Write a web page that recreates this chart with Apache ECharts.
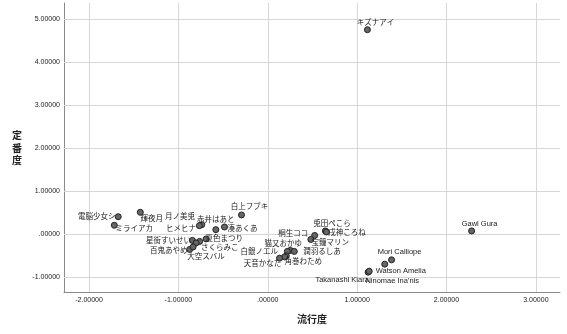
<!DOCTYPE html>
<html>
<head>
<meta charset="utf-8">
<script src="https://cdn.jsdelivr.net/npm/echarts@6/dist/echarts.min.js"></script>
<style>html,body{margin:0;padding:0;background:#fff;}#c{width:567px;height:334px;}</style>
</head>
<body>
<div id="c"></div>
<script>
// ---- data ----
const names = ['キズナアイ','Gawl Gura','Mori Calliope','Watson Amelia','Takanashi Kiara',"Ninomae Ina'nis",
  '兎田ぺこら','戌神ころね','桐生ココ','宝鐘マリン','猫又おかゆ','白銀ノエル','潤羽るしあ','角巻わため','','天音かなた',
  '電脳少女シ','ミライアカ','輝夜月','月ノ美兎','ヒメヒナ','赤井はあと','湊あくあ','白上フブキ',
  '星街すいせい','さくらみこ','夏色まつり','大空スバル','百鬼あやめ',''];
const popularity = [1.115,2.281,1.385,1.309,1.123,1.135,
  0.645,0.656,0.525,0.482,0.252,0.219,0.297,0.207,0.188,0.132,
  -1.673,-1.717,-1.426,-0.738,-0.765,-0.581,-0.484,-0.294,
  -0.843,-0.762,-0.689,-0.802,-0.874,-0.835];
const standard = [4.749,0.070,-0.603,-0.703,-0.889,-0.866,
  0.070,0.046,-0.035,-0.128,-0.383,-0.406,-0.406,-0.510,-0.534,-0.564,
  0.401,0.202,0.503,0.216,0.193,0.100,0.162,0.441,
  -0.151,-0.174,-0.116,-0.209,-0.360,-0.302];
const xTicks = [-2,-1,0,1,2,3];
const yTicks = [-1,0,1,2,3,4,5];
const xTitle = '流行度';
const yTitle = '定\n番\n度';

// ---- label placement (style only) ----
const labelOffsets = {
  'キズナアイ':[8,-7],'Gawl Gura':[8,-7],'Mori Calliope':[8,-8],'Watson Amelia':[16,7],
  'Takanashi Kiara':[-26,8],"Ninomae Ina'nis":[23,10],
  '兎田ぺこら':[6.5,-7],'戌神ころね':[20.5,0.5],'桐生ココ':[-21.5,-2],'宝鐘マリン':[19.5,3],
  '猫又おかゆ':[-7,-6.5],'白銀ノエル':[-28,0.5],'潤羽るしあ':[27.7,1],'角巻わため':[17,6],'天音かなた':[-17,6],
  '電脳少女シ':[-21.6,0],'ミライアカ':[20,3.7],'輝夜月':[11.4,6.4],'月ノ美兎':[-21.7,-7.4],'ヒメヒナ':[-18.3,3.6],
  '赤井はあと':[0,-9.7],'湊あくあ':[18,2.3],'白上フブキ':[8,-8.3],
  '星街すいせい':[-24,1],'さくらみこ':[20,6.5],'夏色まつり':[18,0],'大空スバル':[10,14.5],'百鬼あやめ':[-21,1.5]
};

const fmt = v => v.toFixed(5).replace(/^(-?)0\./, '$1.');
const FONT = "'Liberation Sans', 'Noto Sans CJK JP', sans-serif";

const points = names.map((n, i) => ({
  name: n,
  value: [popularity[i], standard[i]],
  label: n ? { show: true, position: 'inside', offset: labelOffsets[n] || [0,0] } : { show: false }
}));

const gridLines = xTicks.map(v => ({ xAxis: v })).concat(yTicks.map(v => ({ yAxis: v })));

const chart = echarts.init(document.getElementById('c'), null, {renderer: 'canvas'});
chart.setOption({
  animation: false,
  backgroundColor: '#fff',
  grid: { left: 64, right: 7, top: 3, bottom: 42, containLabel: false },
  graphic: [{
    type: 'text', left: 12, top: 129,
    style: { text: yTitle, fontSize: 10, fontWeight: 'bold', fill: '#222', lineHeight: 12.5,
             fontFamily: "'Noto Sans CJK JP', sans-serif", align: 'left' }
  }],
  xAxis: {
    type: 'value', min: -2.28, max: 3.27,
    name: xTitle, nameLocation: 'middle', nameGap: 23,
    nameTextStyle: { fontSize: 10, fontWeight: 'bold', color: '#222', fontFamily: FONT },
    axisLine: { show: true, onZero: false, lineStyle: { color: '#8a8a8a', width: 1 } },
    axisTick: { show: false, customValues: xTicks },
    axisLabel: { customValues: xTicks, formatter: fmt, fontSize: 7, color: '#222', margin: 5, fontFamily: FONT },
    splitLine: { show: false }
  },
  yAxis: {
    type: 'value', min: -1.35, max: 5.37,
    axisLine: { show: true, onZero: false, lineStyle: { color: '#8a8a8a', width: 1 } },
    axisTick: { show: false, customValues: yTicks },
    axisLabel: { customValues: yTicks, formatter: fmt, fontSize: 7, color: '#222', margin: 4, fontFamily: FONT },
    splitLine: { show: false }
  },
  series: [{
    type: 'scatter',
    z: 1,
    data: [],
    silent: true,
    markLine: {
      silent: true, symbol: 'none', z: 1, animation: false,
      label: { show: false },
      lineStyle: { color: '#d6d6d6', width: 1, type: 'solid' },
      emphasis: { disabled: true },
      data: gridLines
    }
  }, {
    type: 'scatter',
    z: 3,
    symbol: 'circle',
    symbolSize: 6,
    itemStyle: { color: '#666', borderColor: '#222', borderWidth: 1, opacity: 1 },
    label: {
      position: 'inside', formatter: p => p.name,
      fontSize: 7.5, color: '#222', fontFamily: FONT
    },
    emphasis: { disabled: true },
    data: points
  }]
});
</script>
</body>
</html>
